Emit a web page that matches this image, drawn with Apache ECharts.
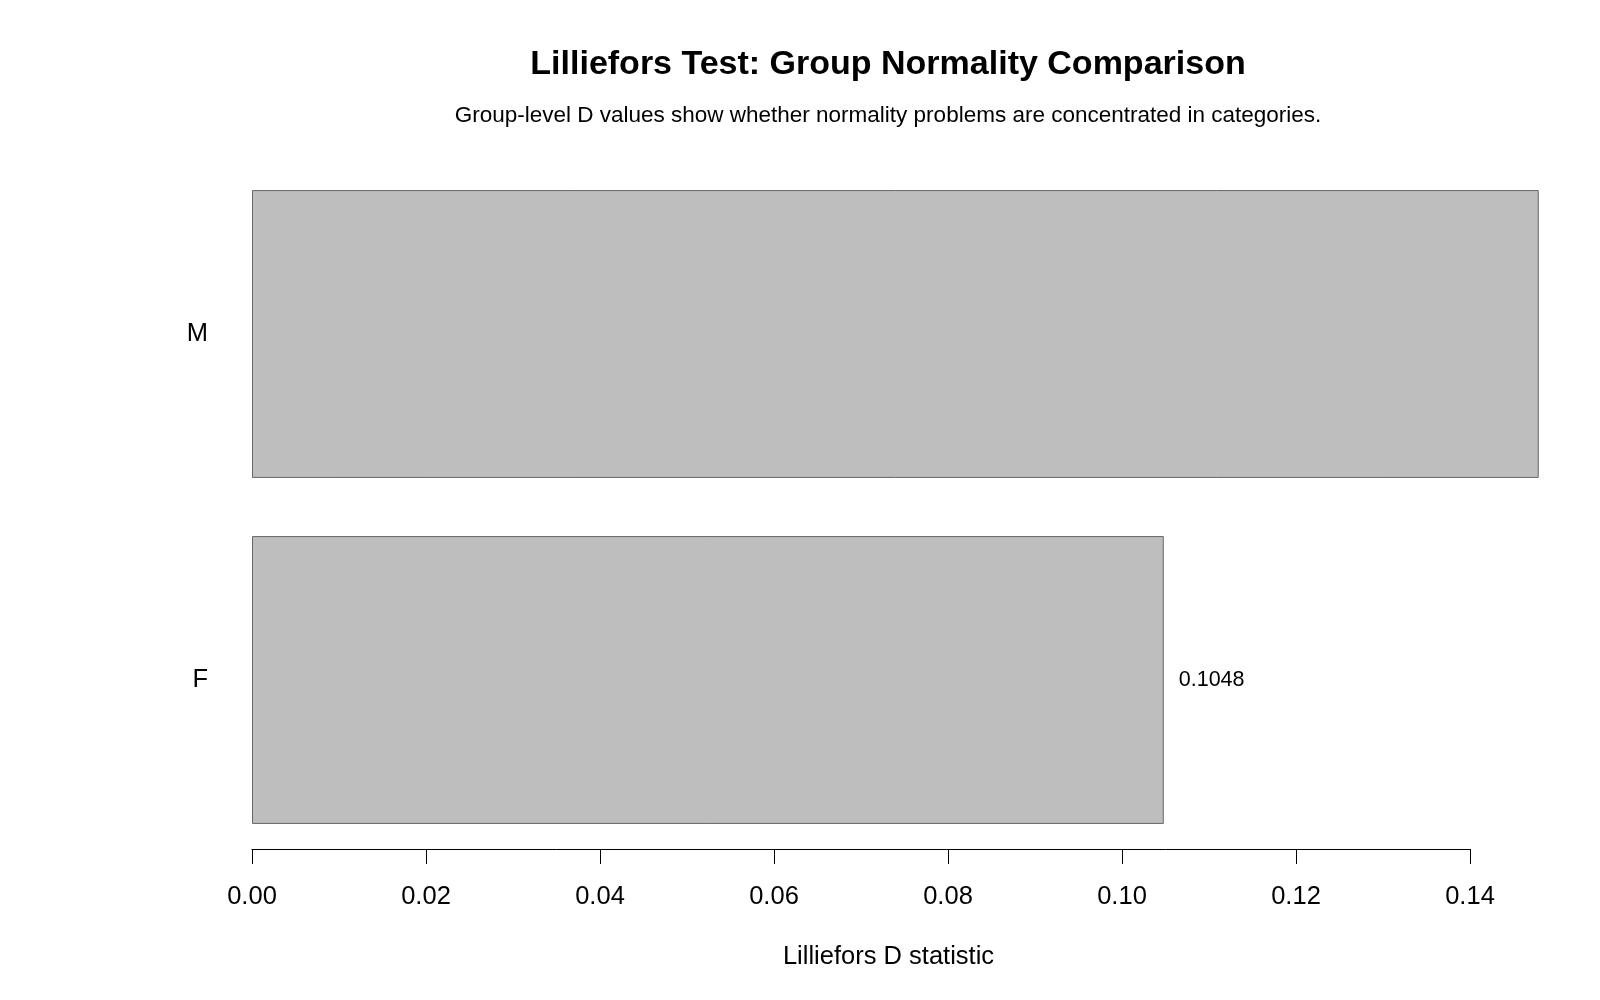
<!DOCTYPE html>
<html style="height: 100%">
<head>
  <meta charset="utf-8">
</head>
<body style="height: 100%; margin: 0; background: #fff">
  <div id="container" style="width: 1600px; height: 1000px"></div>

  <script type="text/javascript" src="https://fastly.jsdelivr.net/npm/echarts@6/dist/echarts.min.js"></script>
  <script type="text/javascript">
    // groups, bottom to top
    var groups = ['F', 'M'];
    var dValues = [0.1048, 0.1479];
    // which bars carry a text label (the M one falls off the plot in the original)
    var showLabel = [true, false];

    var titleText = 'Lilliefors Test: Group Normality Comparison';
    var subtitleText = 'Group-level D values show whether normality problems are concentrated in categories.';
    var xName = 'Lilliefors D statistic';

    var font = 'Liberation Sans, Arial, sans-serif';

    var dom = document.getElementById('container');
    var myChart = echarts.init(dom, null, { renderer: 'canvas' });

    var barData = dValues.map(function (v, i) {
      return {
        value: v,
        label: { show: showLabel[i] }
      };
    });

    var option = {
      backgroundColor: '#fff',
      animation: false,
      title: [
        {
          text: titleText,
          left: 888,
          top: 48,
          textAlign: 'center',
          padding: 0,
          textStyle: { fontFamily: font, fontSize: 34, fontWeight: 'bold', color: '#000' }
        },
        {
          text: subtitleText,
          left: 888,
          top: 104,
          textAlign: 'center',
          padding: 0,
          textStyle: { fontFamily: font, fontSize: 22.5, fontWeight: 'normal', color: '#000' }
        }
      ],
      grid: {
        left: 252,
        width: 1218,
        top: 161,
        height: 692,
        outerBoundsMode: 'none'
      },
      xAxis: {
        type: 'value',
        min: 0,
        max: 0.14,
        interval: 0.02,
        offset: -4,
        name: xName,
        nameLocation: 'middle',
        nameGap: 95,
        nameTextStyle: { fontFamily: font, fontSize: 25.5, color: '#000', padding: [0, 0, 0, 55] },
        axisLine: { show: true, lineStyle: { color: '#000', width: 1 } },
        axisTick: { show: true, length: 15, lineStyle: { color: '#000', width: 1 } },
        axisLabel: {
          fontFamily: font,
          fontSize: 25.5,
          color: '#000',
          margin: 35,
          formatter: function (v) { return v.toFixed(2); }
        },
        splitLine: { show: false }
      },
      yAxis: {
        type: 'category',
        data: groups,
        axisLine: { show: false },
        axisTick: { show: false },
        axisLabel: { fontFamily: font, fontSize: 25.5, color: '#000', margin: 44, padding: [10, 0, 0, 0] }
      },
      series: [
        {
          type: 'bar',
          data: barData,
          clip: false,
          barCategoryGap: '16.8%',
          itemStyle: { color: '#BEBEBE', borderColor: '#666666', borderWidth: 1 },
          label: {
            position: 'right',
            distance: 15,
            fontFamily: font,
            fontSize: 21.5,
            color: '#000',
            padding: [2, 0, 0, 0],
            formatter: function (p) { return p.value.toFixed(4); }
          }
        }
      ]
    };

    myChart.setOption(option);
    window.addEventListener('resize', myChart.resize);
  </script>
</body>
</html>
